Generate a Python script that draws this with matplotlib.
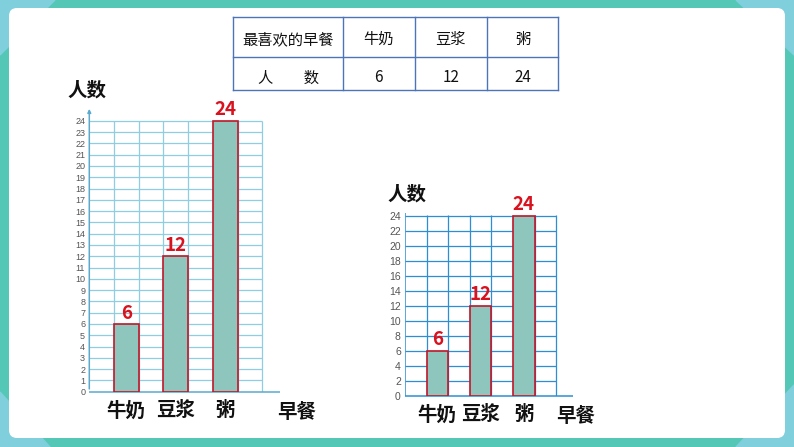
import numpy as np
import matplotlib
matplotlib.use("Agg")
import matplotlib.pyplot as plt
from matplotlib.patches import Rectangle, Polygon, FancyBboxPatch

plt.rcParams['font.family'] = ['Noto Sans CJK SC', 'DejaVu Sans']

# data
foods = ['牛奶', '豆浆', '粥']
counts = [6, 12, 24]
table_head = '最喜欢的早餐'
table_row = '人　　数'
x_name = '早餐'
y_name = '人数'
ticks_left = list(range(0, 25))
ticks_right = list(range(0, 25, 2))

W, H = 794, 447
fig = plt.figure(figsize=(W/100, H/100), dpi=100)

# background frame (pixel coords)
bg = fig.add_axes([0, 0, 1, 1])
bg.set_xlim(0, W); bg.set_ylim(H, 0); bg.axis('off')
teal, lblue = '#55c7b7', '#7fcfdc'
bg.add_patch(Rectangle((0, 0), W, H, color=teal, zorder=0))
for pts in ([(0, 0), (55, 0), (0, 55)], [(W, 0), (W-58, 0), (W, 55)],
            [(0, H), (50, H), (0, H-55)], [(W, H), (W-58, H), (W, H-62)]):
    bg.add_patch(Polygon(pts, closed=True, color=lblue, zorder=1))
bg.add_patch(FancyBboxPatch((9, 8), 776, 430, boxstyle='round,pad=0,rounding_size=8',
                            fc='white', ec='none', zorder=2))

# table
tc = '#4d74b8'
xs = [233.3, 342.7, 415, 486.7, 558.3]
ys = [17.3, 57.3, 90]
for x in xs:
    bg.plot([x, x], [ys[0], ys[-1]], color=tc, lw=1.0, zorder=3)
for y in ys:
    bg.plot([xs[0], xs[-1]], [y, y], color=tc, lw=1.0, zorder=3)
row1 = [table_head] + foods
row2 = [table_row] + [str(c) for c in counts]
for i in range(4):
    cx = (xs[i] + xs[i+1]) / 2
    bg.text(cx, 39.5, row1[i], ha='center', va='center', fontsize=11, color='#111111', zorder=4)
    bg.text(cx, 78, row2[i], ha='center', va='center', fontsize=11, color='#111111', zorder=4)

def px_axes(left, right, bottom, top):
    return fig.add_axes([left/W, (H-bottom)/H, (right-left)/W, (bottom-top)/H])

bar_fc = '#8ec6bd'
bar_ec = '#c0182a'
red = '#d8121f'
xpos = [2*i + 1.5 for i in range(len(foods))]

def draw_chart(ax, ticks, ymax_grid, xmax, ymax, gc, axc, tick_fs, name_xy, xname_xy, arrow):
    ax.set_xlim(0, xmax); ax.set_ylim(0, ymax)
    ax.patch.set_alpha(0)
    for s in ax.spines.values():
        s.set_visible(False)
    ax.hlines(ticks[1:], 0, 7, color=gc, lw=0.9, zorder=1)
    ax.vlines(range(1, 8), 0, ymax_grid, color=gc, lw=0.9, zorder=1)
    ax.hlines(0, 0, xmax, color=axc, lw=1.1, zorder=2, clip_on=False)
    if arrow:
        ax.annotate('', xy=(0, ymax), xytext=(0, 0),
                    arrowprops=dict(arrowstyle='-|>', color=axc, lw=1.1, mutation_scale=5),
                    annotation_clip=False, zorder=2)
    else:
        ax.vlines(0, 0, ymax, color=axc, lw=1.1, zorder=2)
    ax.bar(xpos, counts, width=1, color=bar_fc, edgecolor=bar_ec, lw=1.2, zorder=3)
    for x, v in zip(xpos, counts):
        ax.annotate(str(v), (x, v), xytext=(0, 1), textcoords='offset points',
                    ha='center', va='bottom', fontsize=13.5, color=red,
                    fontweight='bold', annotation_clip=False)
    ax.set_yticks(ticks)
    ax.set_yticklabels([str(t) for t in ticks], fontsize=tick_fs, color='#555555',
                       family=['Liberation Sans', 'DejaVu Sans'])
    ax.set_xticks(xpos)
    ax.set_xticklabels(foods, fontsize=14, fontweight='bold', color='#111111')
    ax.tick_params(axis='both', length=0)
    ax.tick_params(axis='y', pad=3)
    ax.tick_params(axis='x', pad=7)
    ax.text(name_xy[0], name_xy[1], y_name, ha='center', va='center', fontsize=14,
            fontweight='bold', color='#111111', clip_on=False)
    ax.text(xname_xy[0], xname_xy[1], x_name, ha='center', va='center', fontsize=14,
            fontweight='bold', color='#111111', clip_on=False)

ax1 = px_axes(89.3, 280, 391.7, 106.1)
draw_chart(ax1, ticks_left, 24, 7.72, 25.3, '#8fcde0', '#5aa9cf', 6.5,
           (-0.09, 26.6), (8.4, -1.8), True)

ax2 = px_axes(405, 573, 395.7, 212.7)
draw_chart(ax2, ticks_right, 24.1, 7.78, 24.4, '#2d8fd2', '#2d8fd2', 7.5,
           (0.09, 26.7), (7.9, -2.84), False)

fig.savefig('out.png', dpi=100)
